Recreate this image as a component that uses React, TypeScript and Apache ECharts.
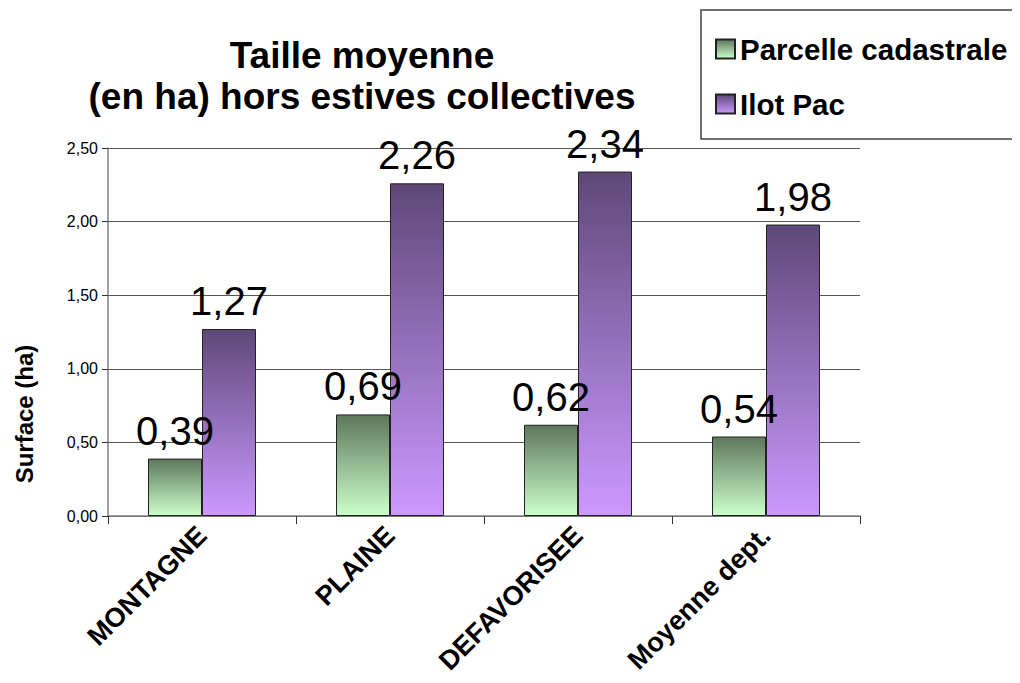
import React, { useEffect, useRef } from "react";
import * as echarts from "echarts";

const categories = ["MONTAGNE", "PLAINE", "DEFAVORISEE", "Moyenne dept."];
const parcelleValues = [0.39, 0.69, 0.62, 0.54];
const ilotValues = [1.27, 2.26, 2.34, 1.98];
const seriesNames = ["Parcelle cadastrale", "Ilot Pac"];
const titleText = "Taille moyenne\n(en ha) hors estives collectives";
const yAxisTitle = "Surface (ha)";

const FONT = "'Liberation Sans', Arial, sans-serif";

const fmt = (v: number) => v.toFixed(2).replace(".", ",");

export default function App() {
  const ref = useRef<HTMLDivElement>(null);
  useEffect(() => {
    if (!ref.current) return;
    const chart = echarts.init(ref.current, undefined, { renderer: "svg" });
    const green = new echarts.graphic.LinearGradient(0, 0, 0, 1, [
      { offset: 0, color: "#5e775c" },
      { offset: 1, color: "#ccffcc" },
    ]);
    const purple = new echarts.graphic.LinearGradient(0, 0, 0, 1, [
      { offset: 0, color: "#5e4878" },
      { offset: 1, color: "#cc99ff" },
    ]);
    const label = {
      show: true,
      position: "top" as const,
      distance: 8,
      fontSize: 40,
      color: "#000",
      fontFamily: FONT,
      formatter: (p: any) => fmt(p.value),
    };
    chart.setOption({
      animation: false,
      backgroundColor: "#ffffff",
      textStyle: { fontFamily: FONT },
      title: {
        text: titleText,
        left: 357,
        top: 30,
        textAlign: "center",
        textStyle: {
          fontSize: 37,
          fontWeight: "bold",
          color: "#000",
          lineHeight: 41,
          fontFamily: FONT,
        },
      },
      legend: {
        orient: "vertical",
        left: 710,
        top: 29,
        icon: "rect",
        itemWidth: 19,
        itemHeight: 19,
        itemGap: 25,
        itemTextGap: 6,
        data: seriesNames,
        textStyle: {
          fontSize: 29.5,
          fontWeight: "bold",
          color: "#000",
          fontFamily: FONT,
        },
      },
      graphic: [
        {
          type: "rect",
          shape: { x: 701, y: 10, width: 340, height: 129 },
          style: { fill: "none", stroke: "#444", lineWidth: 1.5 },
          z: 0,
        },
        {
          type: "text",
          x: 24,
          y: 414,
          rotation: Math.PI / 2,
          style: {
            text: yAxisTitle,
            fontSize: 24,
            fontWeight: "bold",
            fill: "#000",
            fontFamily: FONT,
            align: "center",
            verticalAlign: "middle",
          },
        },
      ],
      grid: { left: 108, right: 160, top: 148, bottom: 167 },
      xAxis: {
        type: "category",
        data: categories,
        axisLine: { lineStyle: { color: "#808080", width: 1.5 } },
        axisTick: { show: true, length: 8, lineStyle: { color: "#333" } },
        axisLabel: {
          rotate: 45,
          margin: 15,
          fontSize: 27,
          fontWeight: "bold",
          color: "#000",
          fontFamily: FONT,
          interval: 0,
        },
      },
      yAxis: {
        type: "value",
        min: 0,
        max: 2.5,
        interval: 0.5,
        axisLine: { show: true, lineStyle: { color: "#808080", width: 1.5 } },
        axisTick: { show: true, length: 6, lineStyle: { color: "#333" } },
        axisLabel: {
          fontSize: 16,
          color: "#000",
          margin: 10,
          fontFamily: FONT,
          formatter: (v: number) => fmt(v),
        },
        splitLine: { lineStyle: { color: "#555", width: 1 } },
      },
      series: [
        {
          name: seriesNames[0],
          type: "bar",
          data: parcelleValues,
          barWidth: 54,
          barGap: "0%",
          itemStyle: { color: green, borderColor: "#222", borderWidth: 1 },
          label,
        },
        {
          name: seriesNames[1],
          type: "bar",
          data: ilotValues,
          barWidth: 54,
          barGap: "0%",
          itemStyle: { color: purple, borderColor: "#222", borderWidth: 1 },
          label,
        },
      ],
    });
    return () => chart.dispose();
  }, []);
  return <div ref={ref} style={{ width: 1020, height: 683, margin: -8 }} />;
}
